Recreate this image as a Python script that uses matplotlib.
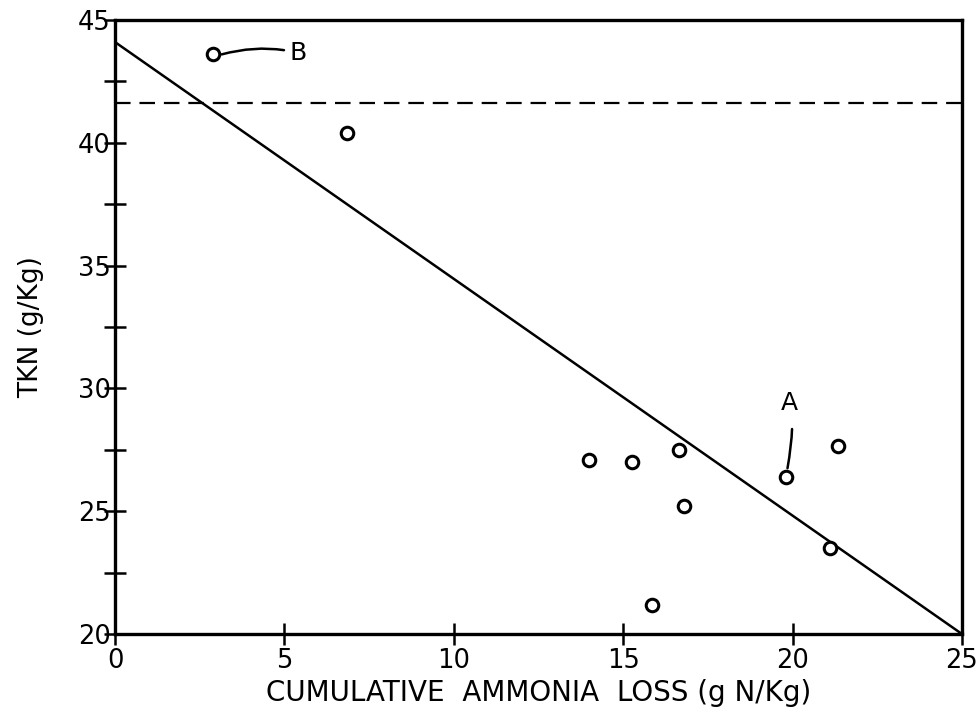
import matplotlib
matplotlib.use("Agg")
import matplotlib.pyplot as plt
import numpy as np

# Data
loss = [2.9, 6.85, 14.0, 15.25, 16.65, 16.8, 15.85, 19.8, 21.35, 21.1]
tkn = [43.6, 40.4, 27.1, 27.0, 27.5, 25.2, 21.2, 26.4, 27.65, 23.5]
fit_x = [0, 25]
fit_y = [44.1, 20.0]
ref_level = 41.6
x_ticks = [0, 5, 10, 15, 20, 25]
y_ticks = [20, 25, 30, 35, 40, 45]
y_minor = [22.5, 27.5, 32.5, 37.5, 42.5]

plt.rcParams['font.family'] = ['DejaVu Sans']

fig = plt.figure(figsize=(9.79, 7.24), dpi=100)
ax = fig.add_axes([0.1175, 0.1243, 0.8651, 0.8481])

ax.plot(fit_x, fit_y, color='black', lw=1.8, solid_capstyle='butt')
ax.axhline(ref_level, color='black', lw=1.6, dashes=(7, 4))
ax.plot(loss, tkn, linestyle='none', marker='o', markersize=9,
        markerfacecolor='white', markeredgecolor='black', markeredgewidth=2.2, zorder=5)

# Labels A and B with wiggly leaders
ax.annotate('B', xy=(loss[0] + 0.25, tkn[0]), xytext=(5.15, 43.65),
            fontsize=18, va='center', ha='left',
            arrowprops=dict(arrowstyle='-', lw=1.8, color='black',
                            connectionstyle='angle3,angleA=-15,angleB=15', shrinkA=2, shrinkB=0))
ax.annotate('A', xy=(loss[7] + 0.05, tkn[7] + 0.35), xytext=(19.9, 29.4),
            fontsize=18, va='center', ha='center',
            arrowprops=dict(arrowstyle='-', lw=1.8, color='black',
                            connectionstyle='angle3,angleA=-70,angleB=80', shrinkA=8, shrinkB=0))

ax.set_xlim(0, 25)
ax.set_ylim(20, 45)
ax.set_xticks(x_ticks)
ax.set_yticks(y_ticks)
ax.set_yticks(y_minor, minor=True)
ax.tick_params(axis='both', which='major', direction='inout', length=16, width=1.8,
               labelsize=18.5, pad=2)
ax.tick_params(axis='y', which='major', pad=-5)
ax.tick_params(axis='y', which='minor', direction='inout', length=16, width=1.8)
for s in ax.spines.values():
    s.set_linewidth(2.4)

ax.set_xlabel('CUMULATIVE  AMMONIA  LOSS (g N/Kg)', fontsize=20, labelpad=4)
ax.set_ylabel('TKN (g/Kg)', fontsize=19, labelpad=24)

fig.savefig('out.png', dpi=100)
